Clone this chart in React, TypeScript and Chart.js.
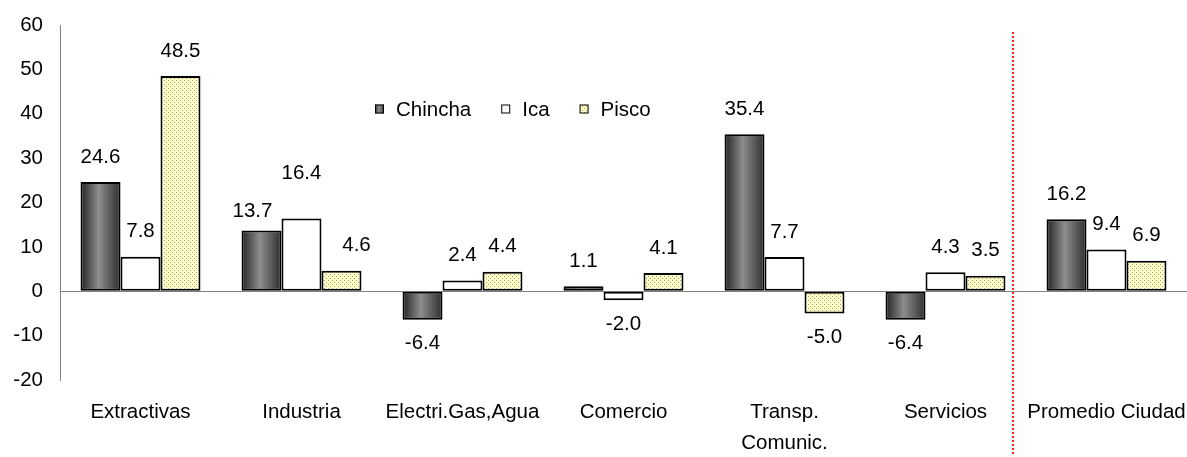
import React, { useEffect, useRef } from 'react';
import { Chart, registerables } from 'chart.js';

Chart.register(...registerables);

const categories: (string | string[])[] = [
  'Extractivas',
  'Industria',
  'Electri.Gas,Agua',
  'Comercio',
  ['Transp.', 'Comunic.'],
  'Servicios',
  'Promedio Ciudad',
];
const seriesNames = ['Chincha', 'Ica', 'Pisco'];
const chincha = [24.6, 13.7, -6.4, 1.1, 35.4, -6.4, 16.2];
const ica = [7.8, 16.4, 2.4, -2.0, 7.7, 4.3, 9.4];
const pisco = [48.5, 4.6, 4.4, 4.1, -5.0, 3.5, 6.9];
const yMin = -20;
const yMax = 60;
const yStep = 10;
const dividerAt = 5.42; // position on the category axis of the red dotted divider

// manual nudges (px) of a few value labels, keyed "dataset-index"
const labelNudge: Record<string, [number, number]> = {
  '0-1': [-9, 6],
  '1-1': [0, -20],
  '2-1': [15, 0],
};

const FONT = '"Liberation Sans", Arial, Helvetica, sans-serif';
const FONT_SIZE = 20.5;

function makeDotPattern(): CanvasPattern | string {
  const c = document.createElement('canvas');
  c.width = 4;
  c.height = 4;
  const g = c.getContext('2d');
  if (!g) return '#ffffcc';
  g.fillStyle = '#ffffc6';
  g.fillRect(0, 0, 4, 4);
  g.fillStyle = '#9a9a82';
  g.fillRect(0, 0, 1, 1);
  g.fillRect(2, 2, 1, 1);
  const p = g.createPattern(c, 'repeat');
  return p || '#ffffcc';
}

function cylGradient(ctx: CanvasRenderingContext2D, x0: number, x1: number) {
  const gr = ctx.createLinearGradient(x0, 0, x1, 0);
  gr.addColorStop(0, '#2e2e2e');
  gr.addColorStop(0.45, '#8e8e8e');
  gr.addColorStop(1, '#363636');
  return gr;
}

const gradientBarsPlugin = {
  id: 'gradientBars',
  afterDatasetDraw(chart: any, args: any) {
    if (args.index !== 0) return;
    const ctx: CanvasRenderingContext2D = chart.ctx;
    const meta = chart.getDatasetMeta(0);
    ctx.save();
    meta.data.forEach((el: any) => {
      const { x, y, base, width } = el.getProps(['x', 'y', 'base', 'width'], true);
      const left = x - width / 2;
      const top = Math.min(y, base);
      const h = Math.abs(base - y);
      const bw = 2;
      if (h > 2 * bw) {
        ctx.fillStyle = cylGradient(ctx, left + bw, left + width - bw);
        ctx.fillRect(left + bw, top + bw, width - 2 * bw, h - 2 * bw);
      }
    });
    ctx.restore();
  },
};

const valueLabelsPlugin = {
  id: 'valueLabels',
  afterDatasetsDraw(chart: any) {
    const ctx: CanvasRenderingContext2D = chart.ctx;
    ctx.save();
    ctx.font = `${FONT_SIZE}px ${FONT}`;
    ctx.fillStyle = '#000';
    ctx.textAlign = 'center';
    ctx.textBaseline = 'middle';
    chart.data.datasets.forEach((ds: any, di: number) => {
      const meta = chart.getDatasetMeta(di);
      meta.data.forEach((el: any, i: number) => {
        const v = ds.data[i] as number;
        const { x, y } = el.getProps(['x', 'y'], true);
        const nudge = labelNudge[`${di}-${i}`] || [0, 0];
        const ty = v >= 0 ? y - 25 : y + 24;
        ctx.fillText(v.toFixed(1), x + nudge[0], ty + nudge[1]);
      });
    });
    ctx.restore();
  },
};

const legendPlugin = {
  id: 'customLegend',
  afterDraw(chart: any) {
    const ctx: CanvasRenderingContext2D = chart.ctx;
    ctx.save();
    ctx.font = `${FONT_SIZE}px ${FONT}`;
    ctx.textBaseline = 'middle';
    ctx.textAlign = 'left';
    let x = 375;
    const cy = 109;
    const box = 9;
    chart.data.datasets.forEach((ds: any, di: number) => {
      const bx = x;
      const by = cy - box / 2;
      if (di === 0) ctx.fillStyle = cylGradient(ctx, bx, bx + box);
      else ctx.fillStyle = ds.backgroundColor;
      ctx.fillRect(bx, by, box, box);
      ctx.strokeStyle = '#000';
      ctx.lineWidth = 1;
      ctx.strokeRect(bx + 0.5, by + 0.5, box - 1, box - 1);
      ctx.fillStyle = '#000';
      const tx = bx + 21;
      ctx.fillText(ds.label, tx, cy + 1);
      x = tx + ctx.measureText(ds.label).width + 30;
    });
    ctx.restore();
  },
};

const dividerPlugin = {
  id: 'divider',
  afterDraw(chart: any) {
    const ctx: CanvasRenderingContext2D = chart.ctx;
    const xs = chart.scales.x;
    const ys = chart.scales.y;
    const px = Math.round(xs.getPixelForValue(dividerAt));
    ctx.save();
    ctx.strokeStyle = '#ff2020';
    ctx.lineWidth = 2;
    ctx.setLineDash([2, 2]);
    ctx.beginPath();
    ctx.moveTo(px, ys.getPixelForValue(58.4));
    ctx.lineTo(px, chart.height - 2);
    ctx.stroke();
    ctx.restore();
  },
};

export default function App() {
  const ref = useRef<HTMLCanvasElement | null>(null);

  useEffect(() => {
    document.body.style.margin = '0';
    document.documentElement.style.overflow = 'hidden';
    const canvas = ref.current;
    if (!canvas) return;
    const dots = makeDotPattern();
    const chart = new Chart(canvas, {
      type: 'bar',
      data: {
        labels: categories as any,
        datasets: [
          {
            label: seriesNames[0],
            data: chincha,
            backgroundColor: '#666666',
            borderColor: '#000',
            borderWidth: 2,
            borderSkipped: false,
          },
          {
            label: seriesNames[1],
            data: ica,
            backgroundColor: '#ffffff',
            borderColor: '#000',
            borderWidth: 2,
            borderSkipped: false,
          },
          {
            label: seriesNames[2],
            data: pisco,
            backgroundColor: dots as any,
            borderColor: '#000',
            borderWidth: 2,
            borderSkipped: false,
          },
        ],
      },
      options: {
        animation: false,
        responsive: true,
        maintainAspectRatio: false,
        layout: { padding: { top: 25, right: 0, left: 0, bottom: 0 } },
        datasets: {
          bar: { categoryPercentage: 0.745, barPercentage: 1 },
        },
        plugins: {
          legend: { display: false },
          tooltip: { enabled: false },
        },
        scales: {
          x: {
            grid: { display: false, drawTicks: false },
            border: { display: false },
            ticks: {
              color: '#000',
              font: { family: FONT, size: FONT_SIZE, lineHeight: 1.5 },
              padding: 17,
              maxRotation: 0,
              autoSkip: false,
            },
            afterFit(scale: any) {
              scale.height = 77;
              scale.paddingLeft = 0;
              scale.paddingRight = 0;
            },
          },
          y: {
            min: yMin,
            max: yMax,
            grid: {
              drawTicks: false,
              color: (c: any) => (c.tick && c.tick.value === 0 ? '#808080' : 'rgba(0,0,0,0)'),
              lineWidth: 1,
            },
            border: { display: true, color: '#808080', width: 1 },
            ticks: {
              stepSize: yStep,
              color: '#000',
              font: { family: FONT, size: FONT_SIZE },
              padding: 17,
            },
            afterFit(scale: any) {
              scale.width = 60;
              scale.paddingTop = 0;
              scale.paddingBottom = 0;
            },
          },
        },
      },
      plugins: [gradientBarsPlugin, valueLabelsPlugin, legendPlugin, dividerPlugin],
    });
    return () => chart.destroy();
  }, []);

  return (
    <div style={{ width: 1187, height: 457, position: 'relative', overflow: 'hidden' }}>
      <canvas ref={ref} style={{ display: 'block' }} />
    </div>
  );
}
